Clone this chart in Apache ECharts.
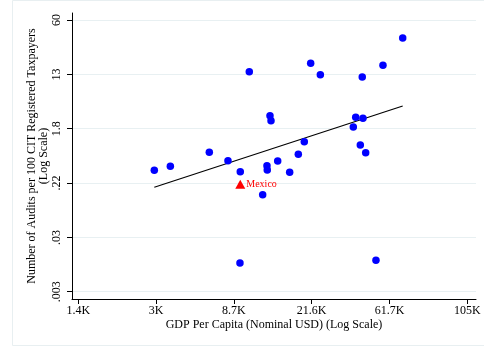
<!DOCTYPE html>
<html>
<head>
<meta charset="utf-8">
<script src="https://cdn.jsdelivr.net/npm/echarts@6/dist/echarts.min.js"></script>
<style>html,body{margin:0;padding:0;background:#fff;}#c{width:484px;height:346px;}</style>
</head>
<body>
<div id="c"></div>
<script>
// Axis positions are in "log-scale tick units": tick i sits at position i.
const xTickLabels = ['1.4K', '3K', '8.7K', '21.6K', '61.7K', '105K'];
const yTickLabels = ['.003', '.03', '.22', '1.8', '13', '60'];
const tickPositions = [0, 1, 2, 3, 4, 5];

// Countries: [log GDP position, log audits position]
const countryX = [0.977, 1.183, 1.684, 1.924, 2.082, 2.198, 2.078, 2.370, 2.425, 2.429, 2.464, 2.477, 2.563, 2.717, 2.828, 2.905, 2.987, 3.111, 3.535, 3.566, 3.659, 3.625, 3.694, 3.650, 3.826, 3.916, 4.170];
const countryY = [2.234, 2.308, 2.566, 2.411, 2.209, 4.049, 0.528, 1.785, 2.319, 2.240, 3.239, 3.147, 2.406, 2.198, 2.529, 2.761, 4.204, 3.994, 3.031, 3.210, 3.192, 2.700, 2.558, 3.952, 0.578, 4.167, 4.670];

const mexicoX = [2.082];
const mexicoY = [1.977];

const fitX = [0.977, 4.170];
const fitY = [1.922, 3.418];

const font = 'Liberation Serif';

const chart = echarts.init(document.getElementById('c'), null, {renderer: 'canvas'});
chart.setOption({
  backgroundColor: '#ffffff',
  animation: false,
  graphic: [{
    type: 'rect',
    shape: {x: 12.5, y: 0.5, width: 480, height: 345},
    style: {fill: 'none', stroke: '#e8eff1', lineWidth: 1},
    silent: true, z: -10
  }],
  grid: {left: 72, right: 8, top: 13, bottom: 47},
  xAxis: {
    type: 'value',
    min: -0.081, max: 5.112,
    name: 'GDP Per Capita (Nominal USD) (Log Scale)',
    nameLocation: 'middle',
    nameGap: 20,
    nameMoveOverlap: false,
    nameTextStyle: {fontFamily: font, fontSize: 12, color: '#000'},
    axisLine: {show: true, onZero: false, lineStyle: {color: '#000', width: 1}},
    axisTick: {show: true, length: 5, customValues: tickPositions, lineStyle: {color: '#000'}},
    axisLabel: {
      customValues: tickPositions,
      margin: 6,
      fontFamily: font, fontSize: 12, color: '#000',
      formatter: v => xTickLabels[Math.round(v)]
    },
    splitLine: {show: false}
  },
  yAxis: {
    type: 'value',
    min: -0.134, max: 5.130,
    name: 'Number of Audits per 100 CIT Registered Taxpayers\n(Log Scale)',
    nameLocation: 'middle',
    nameRotate: 90,
    nameGap: 22,
    nameMoveOverlap: false,
    nameTextStyle: {fontFamily: font, fontSize: 12, color: '#000', lineHeight: 12},
    axisLine: {show: true, onZero: false, lineStyle: {color: '#000', width: 1}},
    axisTick: {show: true, length: 5, customValues: tickPositions, lineStyle: {color: '#000'}},
    axisLabel: {
      customValues: tickPositions,
      rotate: 90,
      margin: 9,
      fontFamily: font, fontSize: 12, color: '#000',
      formatter: v => yTickLabels[Math.round(v)]
    },
    splitLine: {show: false}
  },
  series: [
    {
      type: 'line',
      data: [],
      z: 0,
      silent: true,
      markLine: {
        silent: true,
        z: 0,
        symbol: 'none',
        label: {show: false},
        lineStyle: {color: '#e8f0f2', width: 1, type: 'solid'},
        data: tickPositions.map(v => ({yAxis: v}))
      }
    },
    {
      type: 'line',
      data: fitX.map((x, i) => [x, fitY[i]]),
      showSymbol: false,
      symbol: 'none',
      silent: true,
      lineStyle: {color: '#000', width: 1.2, opacity: 1},
      z: 10
    },
    {
      type: 'scatter',
      data: countryX.map((x, i) => [x, countryY[i]]),
      symbol: 'circle',
      symbolSize: 7.5,
      itemStyle: {color: '#0000ff', opacity: 1},
      z: 11
    },
    {
      type: 'scatter',
      data: mexicoX.map((x, i) => [x, mexicoY[i]]),
      symbol: 'triangle',
      symbolSize: [10, 9],
      itemStyle: {color: '#ff0000', opacity: 1},
      label: {show: true, position: 'right', distance: 1, formatter: 'Mexico', color: '#ff0000', fontFamily: font, fontSize: 10},
      z: 12
    }
  ]
});
</script>
</body>
</html>
